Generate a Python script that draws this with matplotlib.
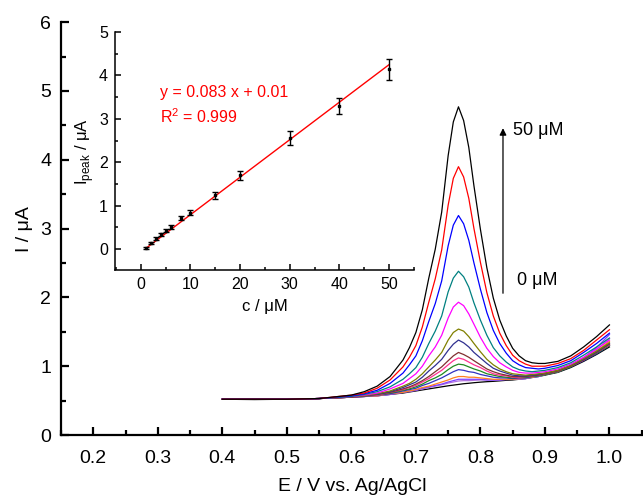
import numpy as np
import matplotlib
matplotlib.use("Agg")
import matplotlib.pyplot as plt
from matplotlib.ticker import MultipleLocator, FormatStrFormatter

plt.rcParams['font.family'] = ['Liberation Sans', 'DejaVu Sans']
plt.rcParams['mathtext.fontset'] = 'custom'
plt.rcParams['mathtext.rm'] = 'Liberation Sans'

# potential grid (V vs Ag/AgCl) and DPV currents (uA)
potential = [0.40, 0.45, 0.50, 0.55, 0.60, 0.62, 0.64, 0.66, 0.68, 0.69, 0.70, 0.71, 0.72,
             0.73, 0.74, 0.75, 0.758, 0.766, 0.774, 0.782, 0.79, 0.80, 0.81, 0.82, 0.83,
             0.84, 0.85, 0.86, 0.87, 0.88, 0.89, 0.90, 0.92, 0.94, 0.96, 0.98, 1.00]

i_50 = [0.52, 0.52, 0.52, 0.53, 0.58, 0.63, 0.71, 0.85, 1.09, 1.27, 1.49, 1.82, 2.28,
        2.70, 3.24, 4.06, 4.55, 4.77, 4.57, 4.18, 3.62, 2.99, 2.43, 1.99, 1.67,
        1.44, 1.26, 1.15, 1.08, 1.05, 1.04, 1.04, 1.07, 1.15, 1.28, 1.43, 1.60]
i_40 = [0.52, 0.52, 0.52, 0.53, 0.58, 0.61, 0.68, 0.80, 0.99, 1.13, 1.30, 1.57, 1.93,
        2.27, 2.69, 3.34, 3.73, 3.90, 3.75, 3.44, 3.00, 2.51, 2.07, 1.73, 1.48,
        1.30, 1.16, 1.08, 1.03, 1.00, 1.00, 1.00, 1.04, 1.11, 1.23, 1.38, 1.53]
i_30 = [0.52, 0.52, 0.52, 0.53, 0.57, 0.60, 0.65, 0.75, 0.90, 1.02, 1.15, 1.37, 1.65,
        1.91, 2.24, 2.75, 3.05, 3.19, 3.07, 2.83, 2.50, 2.12, 1.78, 1.52, 1.33,
        1.19, 1.08, 1.02, 0.98, 0.97, 0.96, 0.97, 1.01, 1.08, 1.20, 1.33, 1.48]
i_20 = [0.52, 0.52, 0.52, 0.53, 0.56, 0.59, 0.63, 0.70, 0.81, 0.89, 0.98, 1.13, 1.33,
        1.51, 1.73, 2.08, 2.28, 2.38, 2.30, 2.15, 1.92, 1.67, 1.45, 1.27, 1.15,
        1.06, 0.99, 0.95, 0.93, 0.92, 0.93, 0.94, 0.98, 1.05, 1.16, 1.28, 1.41]
i_15 = [0.52, 0.52, 0.52, 0.53, 0.56, 0.58, 0.61, 0.67, 0.75, 0.82, 0.89, 1.00, 1.15,
        1.28, 1.45, 1.70, 1.86, 1.93, 1.88, 1.76, 1.61, 1.42, 1.26, 1.14, 1.05,
        0.99, 0.94, 0.91, 0.90, 0.90, 0.91, 0.92, 0.96, 1.03, 1.13, 1.25, 1.38]
i_10 = [0.52, 0.52, 0.52, 0.53, 0.56, 0.57, 0.60, 0.64, 0.71, 0.75, 0.81, 0.89, 0.99,
        1.09, 1.20, 1.38, 1.49, 1.54, 1.51, 1.43, 1.33, 1.21, 1.10, 1.02, 0.96,
        0.92, 0.89, 0.88, 0.87, 0.88, 0.89, 0.90, 0.94, 1.01, 1.11, 1.22, 1.34]
i_8 = [0.52, 0.52, 0.52, 0.53, 0.56, 0.57, 0.59, 0.63, 0.69, 0.73, 0.77, 0.84, 0.93,
       1.01, 1.10, 1.23, 1.32, 1.38, 1.34, 1.28, 1.20, 1.12, 1.04, 0.97, 0.93,
       0.90, 0.87, 0.86, 0.86, 0.87, 0.88, 0.90, 0.94, 1.01, 1.10, 1.21, 1.33]
i_6 = [0.52, 0.52, 0.52, 0.53, 0.55, 0.57, 0.59, 0.62, 0.67, 0.70, 0.74, 0.79, 0.85,
       0.92, 0.99, 1.08, 1.15, 1.20, 1.17, 1.13, 1.08, 1.02, 0.96, 0.92, 0.89,
       0.87, 0.85, 0.85, 0.85, 0.86, 0.87, 0.89, 0.93, 1.00, 1.09, 1.20, 1.32]
i_5 = [0.52, 0.52, 0.52, 0.53, 0.55, 0.57, 0.58, 0.62, 0.66, 0.69, 0.72, 0.77, 0.82,
       0.88, 0.94, 1.02, 1.08, 1.12, 1.10, 1.06, 1.02, 0.98, 0.93, 0.89, 0.87,
       0.86, 0.84, 0.84, 0.85, 0.86, 0.87, 0.89, 0.93, 1.00, 1.09, 1.20, 1.31]
i_4 = [0.52, 0.52, 0.52, 0.53, 0.55, 0.57, 0.58, 0.61, 0.65, 0.67, 0.70, 0.74, 0.79,
       0.83, 0.88, 0.95, 1.00, 1.03, 1.02, 0.99, 0.96, 0.93, 0.89, 0.87, 0.85,
       0.84, 0.83, 0.84, 0.84, 0.85, 0.86, 0.88, 0.92, 0.99, 1.09, 1.19, 1.30]
i_3 = [0.52, 0.52, 0.52, 0.53, 0.55, 0.56, 0.58, 0.60, 0.64, 0.66, 0.68, 0.72, 0.75,
       0.79, 0.83, 0.88, 0.92, 0.95, 0.94, 0.92, 0.91, 0.88, 0.86, 0.84, 0.83,
       0.83, 0.82, 0.83, 0.83, 0.85, 0.86, 0.88, 0.92, 0.99, 1.08, 1.18, 1.30]
i_2 = [0.52, 0.52, 0.52, 0.53, 0.55, 0.56, 0.57, 0.60, 0.62, 0.64, 0.66, 0.69, 0.71,
       0.74, 0.77, 0.80, 0.83, 0.85, 0.85, 0.84, 0.84, 0.83, 0.82, 0.81, 0.81,
       0.81, 0.81, 0.82, 0.83, 0.84, 0.86, 0.88, 0.92, 1.00, 1.10, 1.22, 1.36]
i_1 = [0.52, 0.52, 0.52, 0.53, 0.55, 0.56, 0.57, 0.59, 0.62, 0.64, 0.65, 0.68, 0.70,
       0.72, 0.74, 0.77, 0.79, 0.81, 0.81, 0.81, 0.81, 0.81, 0.80, 0.80, 0.80,
       0.81, 0.81, 0.82, 0.82, 0.84, 0.85, 0.88, 0.92, 1.01, 1.12, 1.27, 1.46]
i_05 = [0.52, 0.52, 0.52, 0.53, 0.55, 0.56, 0.57, 0.59, 0.62, 0.63, 0.65, 0.67, 0.69,
        0.71, 0.73, 0.755, 0.77, 0.785, 0.79, 0.79, 0.795, 0.80, 0.80, 0.80, 0.80,
        0.805, 0.81, 0.81, 0.82, 0.84, 0.85, 0.88, 0.92, 1.00, 1.10, 1.24, 1.40]
i_0 = [0.52, 0.515, 0.52, 0.53, 0.55, 0.56, 0.57, 0.59, 0.61, 0.625, 0.64, 0.655, 0.67,
       0.685, 0.70, 0.715, 0.725, 0.735, 0.745, 0.752, 0.76, 0.768, 0.775, 0.78, 0.787,
       0.795, 0.80, 0.81, 0.82, 0.835, 0.85, 0.87, 0.91, 0.98, 1.07, 1.17, 1.28]

curves = [i_0, i_05, i_1, i_2, i_3, i_4, i_5, i_6, i_8, i_10, i_15, i_20, i_30, i_40, i_50]
colors = ['#000000', '#b070e0', '#8040ff', '#ff8020', '#3030c0', '#208a20', '#ff3090',
          '#803030', '#303090', '#808000', '#ff00ff', '#008080', '#0000ff', '#ff0000', '#000000']

# calibration inset
conc = [1, 2, 3, 4, 5, 6, 8, 10, 15, 20, 30, 40, 50]
i_peak = [0.03, 0.145, 0.24, 0.34, 0.42, 0.51, 0.71, 0.84, 1.24, 1.70, 2.55, 3.29, 4.14]
i_err = [0.02, 0.03, 0.03, 0.03, 0.035, 0.04, 0.045, 0.055, 0.085, 0.10, 0.16, 0.18, 0.24]
fit_slope = 0.0864
fit_intercept = -0.07


def style_axes(ax, width, length):
    for side in ['top', 'right']:
        ax.spines[side].set_visible(False)
    for side in ['left', 'bottom']:
        ax.spines[side].set_linewidth(width)
    ax.tick_params(which='both', direction='in', top=False, right=False, width=width)
    ax.tick_params(which='major', length=length)
    ax.tick_params(which='minor', length=length * 0.55)


fig = plt.figure(figsize=(6.43, 4.95), dpi=100)

ax = fig.add_axes([0.0949, 0.1212, 0.9051, 0.834])
for curve, color in zip(curves, colors):
    ax.plot(potential, curve, color=color, lw=0.9)
ax.set_xlim(0.15, 1.052)
ax.set_ylim(0, 6)
ax.xaxis.set_major_locator(MultipleLocator(0.1))
ax.xaxis.set_minor_locator(MultipleLocator(0.05))
ax.xaxis.set_major_formatter(FormatStrFormatter('%.1f'))
ax.yaxis.set_major_locator(MultipleLocator(1))
ax.yaxis.set_minor_locator(MultipleLocator(0.5))
style_axes(ax, 1.6, 6)
ax.tick_params(labelsize=14)
ax.tick_params(axis='x', pad=11)
ax.tick_params(axis='y', pad=7)
ax.set_xlabel('E / V vs. Ag/AgCl', fontsize=14, labelpad=8)
ax.set_ylabel('I / μA', fontsize=14, labelpad=5)

ax.annotate('', xy=(0.835, 4.5), xytext=(0.835, 2.02),
            arrowprops=dict(arrowstyle='-|>', color='black', lw=0.9, mutation_scale=10))
ax.text(0.851, 4.43, '50 μM', fontsize=13, va='center')
ax.text(0.857, 2.25, '0 μM', fontsize=13, va='center')

ins = fig.add_axes([0.1788, 0.4545, 0.465, 0.4808])
ins.patch.set_alpha(0)
fit_x = np.array([conc[0], conc[-1]])
ins.plot(fit_x, fit_slope * fit_x + fit_intercept, color='red', lw=1.0)
ins.errorbar(conc, i_peak, yerr=i_err, fmt='s', color='black', ms=1.6,
             elinewidth=1.0, capsize=2.2, capthick=1.0)
ins.set_xlim(-5.2, 55)
ins.set_ylim(-0.48, 5)
ins.xaxis.set_major_locator(MultipleLocator(10))
ins.xaxis.set_minor_locator(MultipleLocator(5))
ins.yaxis.set_major_locator(MultipleLocator(1))
ins.yaxis.set_minor_locator(MultipleLocator(0.5))
style_axes(ins, 1.1, 4)
ins.tick_params(labelsize=11.5, pad=5)
ins.set_xlabel('c / μM', fontsize=12, labelpad=5)
ins.set_ylabel(r'I$_{\mathrm{peak}}$ / μA', fontsize=12, labelpad=2)
ins.text(0.15, 0.744, 'y = 0.083 x + 0.01', color='red', fontsize=11.5, va='center',
         transform=ins.transAxes)
ins.text(0.15, 0.643, r'R$^{2}$ = 0.999', color='red', fontsize=11.5, va='center',
         transform=ins.transAxes)

fig.savefig('out.png', dpi=100)
